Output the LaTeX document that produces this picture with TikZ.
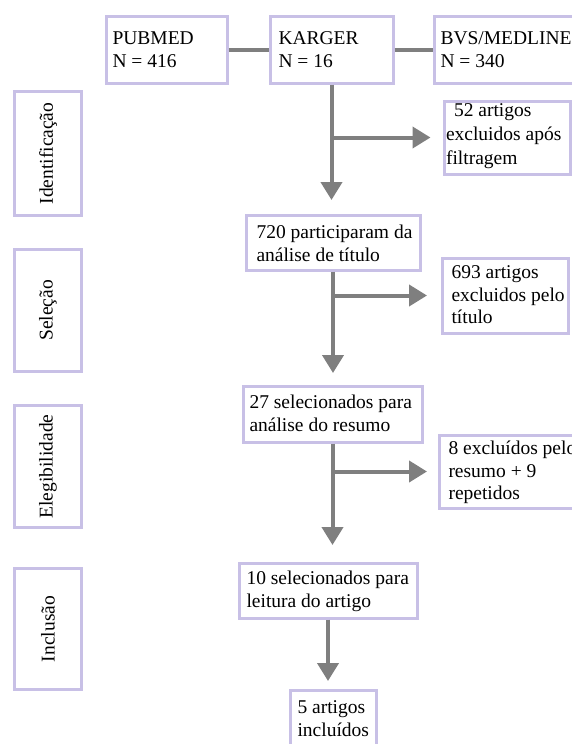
\documentclass[tikz,border=0pt]{standalone}
\usepackage{fontspec}
\setmainfont{Liberation Serif}
\usetikzlibrary{arrows.meta}
\definecolor{boxc}{HTML}{C8C0E6}
\definecolor{arrc}{HTML}{7F7F7F}
\newcommand\bxtext[4]{\parbox[c][#1pt][t]{#2pt}{\leftskip=#3pt\raggedright\rule{0pt}{#4pt}\ignorespaces}}
\begin{document}
\begin{tikzpicture}[x=1pt,y=-1pt,
  every node/.style={font=\fontsize{19.5}{22.5}\selectfont},
  bx/.style={draw=boxc, line width=3pt, rectangle, inner sep=0pt, anchor=north west},
  side/.style={draw=boxc, line width=3pt, rectangle, inner sep=0pt, minimum width=67pt},
  ln/.style={draw=arrc, line width=4pt},
  arr/.style={draw=arrc, line width=4pt, -{Triangle[width=21pt,length=18pt]}}]
\useasboundingbox (0,0) rectangle (572,744);

% top boxes
\node[bx] (pub) at (104.5,14.5) {\parbox[c][67pt][t]{121pt}{\leftskip=6.5pt\rule{0pt}{28.5pt}PUBMED\\N = 416}};
\node[bx] (kar) at (268.5,14.5) {\parbox[c][67pt][t]{123pt}{\leftskip=8.5pt\rule{0pt}{28.5pt}KARGER\\N = 16}};
\node[bx] (bvs) at (432.5,14.5) {\parbox[c][67pt][t]{176pt}{\leftskip=6.5pt\rule{0pt}{28.5pt}BVS/MEDLINE\\N = 340}};

% exclusion boxes
\node[bx] (ex1) at (442.5,99.5) {\parbox[c][73pt][t]{126pt}{\baselineskip=24pt\leftskip=2pt\rule{0pt}{15.5pt}\hspace*{8pt}52 artigos\\excluidos após\\filtragem}};
\node[bx] (ex2) at (440.5,256.5) {\parbox[c][75pt][t]{126pt}{\leftskip=9.5pt\rule{0pt}{20.5pt}693 artigos\\excluidos pelo\\título}};
\node[bx] (ex3) at (437.5,433.5) {\parbox[c][73pt][t]{171pt}{\leftskip=9.5pt\rule{0pt}{19.5pt}8 excluídos pelo\\resumo + 9\\repetidos}};

% main column
\node[bx] (n720) at (244.5,213.5) {\parbox[c][55pt][t]{174pt}{\leftskip=10.5pt\rule{0pt}{23.5pt}720 participaram da\\análise de título}};
\node[bx] (n27) at (241.5,384.5) {\parbox[c][56pt][t]{179pt}{\leftskip=6.5pt\rule{0pt}{22.5pt}27 selecionados para\\análise do resumo}};
\node[bx] (n10) at (237.5,561.5) {\parbox[c][55pt][t]{178pt}{\leftskip=7.5pt\rule{0pt}{21.5pt}10 selecionados para\\leitura do artigo}};
\node[bx] (n5) at (288.5,688.5) {\parbox[c][80pt][t]{86pt}{\leftskip=7.5pt\rule{0pt}{23.5pt}5 artigos\\incluídos}};

% side labels
\node[side, minimum height=124pt] (s1) at (48,153.5) {\rotatebox{90}{Identificação}};
\node[side, minimum height=122pt] (s2) at (48,310.5) {\rotatebox{90}{Seleção}};
\node[side, minimum height=122pt] (s3) at (48,466.5) {\rotatebox{90}{Elegibilidade}};
\node[side, minimum height=121pt] (s4) at (48,629) {\rotatebox{90}{Inclusão}};

% connectors
\draw[ln] (pub.east) -- (kar.west);
\draw[ln] (kar.east) -- (bvs.west);

\draw[arr, shorten >=13.5pt] (kar.south) -- (kar.south |- n720.north);
\draw[arr, shorten >=12pt] (kar.south |- ex1.west) -- (ex1.west);

\draw[arr, shorten >=11.5pt] (n720.south) -- (n720.south |- n27.north);
\draw[arr, shorten >=13.5pt] (n720.south |- ex2.west) -- (ex2.west);

\draw[arr, shorten >=16.5pt] (n27.south) -- (n27.south |- n10.north);
\draw[arr, shorten >=10.5pt] (n27.south |- ex3.west) -- (ex3.west);

\draw[arr, shorten >=7.5pt] (n10.south) -- (n10.south |- n5.north);
\end{tikzpicture}
\end{document}
